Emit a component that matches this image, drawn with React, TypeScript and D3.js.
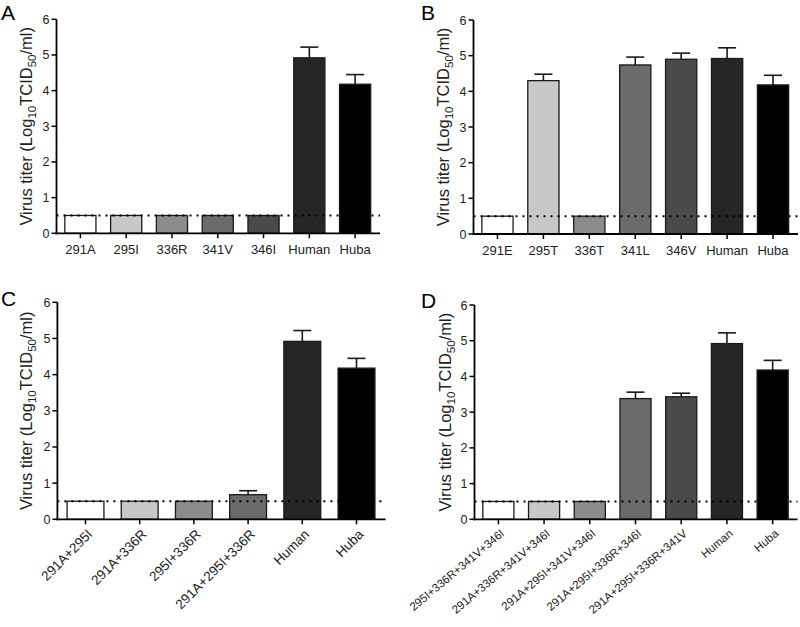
import React from "react";
import * as d3 from "d3";

const catsA = ["291A", "295I", "336R", "341V", "346I", "Human", "Huba"];
const valsA = [0.5, 0.5, 0.5, 0.5, 0.5, 4.92, 4.18];
const errA = [0, 0, 0, 0, 0, 0.3, 0.27];

const catsB = ["291E", "295T", "336T", "341L", "346V", "Human", "Huba"];
const valsB = [0.5, 4.3, 0.5, 4.74, 4.9, 4.92, 4.18];
const errB = [0, 0.18, 0, 0.22, 0.17, 0.3, 0.27];

const catsC = ["291A+295I", "291A+336R", "295I+336R", "291A+295I+336R", "Human", "Huba"];
const valsC = [0.5, 0.5, 0.5, 0.68, 4.92, 4.18];
const errC = [0, 0, 0, 0.11, 0.3, 0.27];

const catsD = [
  "295I+336R+341V+346I",
  "291A+336R+341V+346I",
  "291A+295I+341V+346I",
  "291A+295I+336R+346I",
  "291A+295I+336R+341V",
  "Human",
  "Huba",
];
const valsD = [0.5, 0.5, 0.5, 3.38, 3.43, 4.92, 4.18];
const errD = [0, 0, 0, 0.18, 0.1, 0.3, 0.27];

const yTicks = [0, 1, 2, 3, 4, 5, 6];
const detectionLimit = 0.5;

const grays7 = ["#ffffff", "#c8c8c8", "#8c8c8c", "#6b6b6b", "#4a4a4a", "#262626", "#000000"];
const grays6 = ["#ffffff", "#c8c8c8", "#8c8c8c", "#6b6b6b", "#262626", "#000000"];

const FONT = "'Liberation Sans', Arial, Helvetica, sans-serif";

type PanelProps = {
  letter: string;
  cats: string[];
  vals: number[];
  errs: number[];
  colors: string[];
  x0: number;
  x1: number;
  yBottom: number;
  yTop: number;
  titleX: number;
  letterX: number;
  letterY: number;
  rotate?: number;
  labelSize?: number;
};

function Panel(p: PanelProps) {
  const x = d3
    .scaleBand<string>()
    .domain(p.cats)
    .range([p.x0, p.x1])
    .paddingInner(0.32)
    .paddingOuter(0.16);
  const y = d3.scaleLinear().domain([0, 6]).range([p.yBottom, p.yTop]);
  const bw = x.bandwidth();
  const axisX = p.x0 - 1;
  const lblSize = p.labelSize ?? 13;
  const midY = (p.yBottom + p.yTop) / 2;
  return (
    <g fontFamily={FONT}>
      <text x={p.letterX} y={p.letterY} fontSize={21} fill="#000">
        {p.letter}
      </text>
      {p.cats.map((c, i) => (
        <rect
          key={c}
          x={x(c)!}
          y={y(p.vals[i])}
          width={bw}
          height={y(0) - y(p.vals[i])}
          fill={p.colors[i]}
          stroke="#1a1a1a"
          strokeWidth={1.3}
        />
      ))}
      {p.cats.map((c, i) =>
        p.errs[i] > 0 ? (
          <g key={"e" + c} stroke="#1a1a1a" strokeWidth={1.6}>
            <line
              x1={x(c)! + bw / 2}
              x2={x(c)! + bw / 2}
              y1={y(p.vals[i])}
              y2={y(p.vals[i] + p.errs[i])}
            />
            <line
              x1={x(c)! + bw / 2 - 9}
              x2={x(c)! + bw / 2 + 9}
              y1={y(p.vals[i] + p.errs[i])}
              y2={y(p.vals[i] + p.errs[i])}
            />
          </g>
        ) : null
      )}
      <line
        x1={axisX}
        x2={p.x1 + 2}
        y1={y(detectionLimit)}
        y2={y(detectionLimit)}
        stroke="#000"
        strokeWidth={2}
        strokeDasharray="2,5"
      />
      <line x1={axisX} x2={axisX} y1={y(0) + 1} y2={y(6)} stroke="#000" strokeWidth={1.8} />
      {yTicks.map((t) => (
        <g key={t}>
          <line x1={axisX - 5} x2={axisX} y1={y(t)} y2={y(t)} stroke="#000" strokeWidth={1.5} />
          <text
            x={axisX - 7}
            y={y(t)}
            dy="0.36em"
            textAnchor="end"
            fontSize={12.5}
            fill="#222"
          >
            {t}
          </text>
        </g>
      ))}
      <line x1={axisX - 1} x2={p.x1 + 2} y1={y(0)} y2={y(0)} stroke="#000" strokeWidth={1.8} />
      {p.cats.map((c) => {
        const cx = x(c)! + bw / 2;
        return (
          <g key={"t" + c}>
            <line x1={cx} x2={cx} y1={y(0)} y2={y(0) + 5} stroke="#000" strokeWidth={1.5} />
            {p.rotate ? (
              <text
                transform={`translate(${cx + 3},${y(0) + 11}) rotate(${-p.rotate})`}
                textAnchor="end"
                dy="0.5em"
                fontSize={lblSize}
                fill="#222"
              >
                {c}
              </text>
            ) : (
              <text x={cx} y={y(0) + 21} textAnchor="middle" fontSize={lblSize} fill="#222">
                {c}
              </text>
            )}
          </g>
        );
      })}
      <text
        transform={`translate(${p.titleX},${midY}) rotate(-90)`}
        textAnchor="middle"
        fontSize={16.5}
        fill="#222"
      >
        Virus titer (Log
        <tspan fontSize={11.5} dy={4}>10</tspan>
        <tspan dy={-4}>TCID</tspan>
        <tspan fontSize={11.5} dy={4}>50</tspan>
        <tspan dy={-4}>/ml)</tspan>
      </text>
    </g>
  );
}

export default function App() {
  return (
    <svg
      width={800}
      height={627}
      style={{ position: "absolute", left: 0, top: 0, background: "#fff" }}
    >
      <rect width={800} height={627} fill="#fff" />
      <Panel
        letter="A"
        cats={catsA}
        vals={valsA}
        errs={errA}
        colors={grays7}
        x0={57.5}
        x1={378}
        yBottom={233.3}
        yTop={19.3}
        titleX={32}
        letterX={1}
        letterY={20}
      />
      <Panel
        letter="B"
        cats={catsB}
        vals={valsB}
        errs={errB}
        colors={grays7}
        x0={474.5}
        x1={796}
        yBottom={234}
        yTop={20}
        titleX={449}
        letterX={421}
        letterY={20}
      />
      <Panel
        letter="C"
        cats={catsC}
        vals={valsC}
        errs={errC}
        colors={grays6}
        x0={58.4}
        x1={383.6}
        yBottom={519.3}
        yTop={302.3}
        titleX={32}
        letterX={1}
        letterY={306}
        rotate={45}
        labelSize={13.5}
      />
      <Panel
        letter="D"
        cats={catsD}
        vals={valsD}
        errs={errD}
        colors={grays7}
        x0={475.5}
        x1={795.5}
        yBottom={519.3}
        yTop={305}
        titleX={451}
        letterX={421}
        letterY={308}
        rotate={40}
        labelSize={11.5}
      />
    </svg>
  );
}
